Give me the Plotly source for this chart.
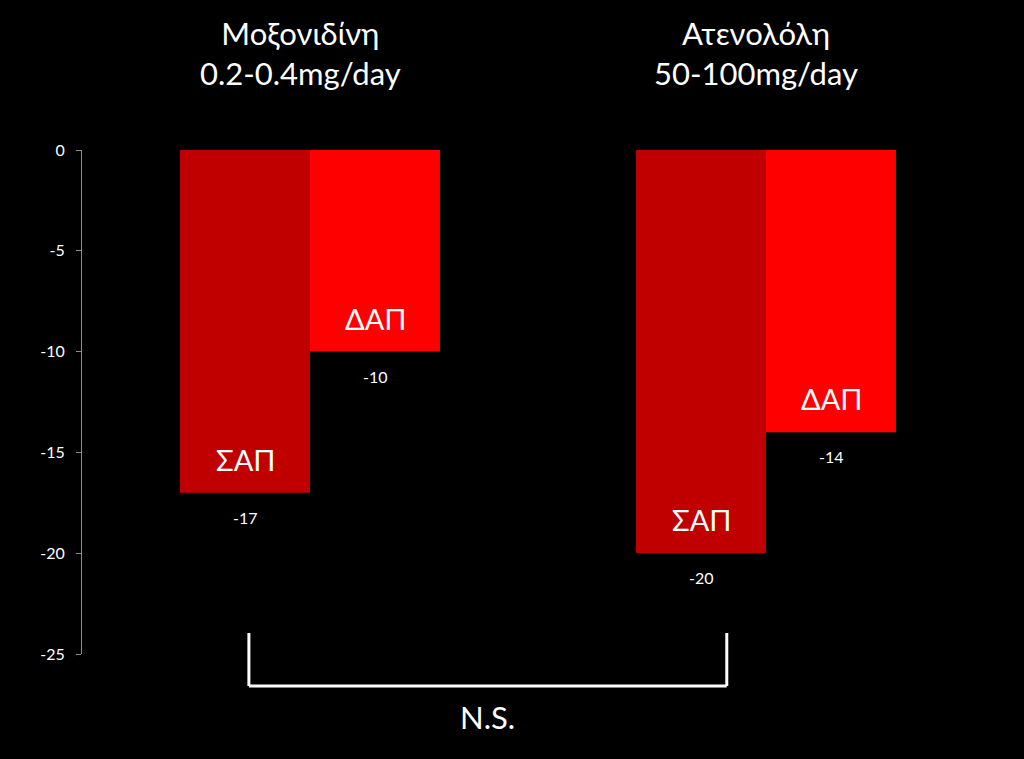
import plotly.graph_objects as go

categories = ["Μοξονιδίνη<br>0.2-0.4mg/day", "Ατενολόλη<br>50-100mg/day"]
sap_values = [-17, -20]
dap_values = [-10, -14]
series_names = ["ΣΑΠ", "ΔΑΠ"]
tick_vals = [0, -5, -10, -15, -20, -25]
tick_text = ["0", "-5", "-10", "-15", "-20", "-25"]
sig_label = "N.S."

FONT = "Lato, 'Open Sans', sans-serif"
x_idx = [0, 1]

fig = go.Figure()
fig.add_trace(go.Bar(x=x_idx, y=sap_values, name=series_names[0],
                     marker=dict(color="#C00000", line=dict(width=0))))
fig.add_trace(go.Bar(x=x_idx, y=dap_values, name=series_names[1],
                     marker=dict(color="#FF0000", line=dict(width=0))))

ann = []
# group titles
for i, c in enumerate(categories):
    ann.append(dict(x=i, y=1.0, xref="x", yref="paper", yanchor="bottom", yshift=56,
                    xshift=-10, text=c, showarrow=False,
                    font=dict(family=FONT, size=31, color="white"), align="center"))
# value labels and series labels
for vals, shift, name in [(sap_values, -65, series_names[0]), (dap_values, 65, series_names[1])]:
    for i, v in enumerate(vals):
        ann.append(dict(x=i, y=v, xref="x", yref="y", xshift=shift, yshift=-13,
                        yanchor="top", text=str(v), showarrow=False,
                        font=dict(family=FONT, size=16, color="white")))
        ann.append(dict(x=i, y=v, xref="x", yref="y", xshift=shift, yshift=14,
                        yanchor="bottom", text=name, showarrow=False,
                        font=dict(family=FONT, size=29, color="white")))

bx0, bx1 = -0.134, 0.914
# significance label
ann.append(dict(x=(bx0 + bx1) / 2, y=-0.0635, xref="x", yref="paper", yanchor="top", yshift=-10,
                text=sig_label, showarrow=False,
                font=dict(family=FONT, size=31, color="white")))

line = dict(color="white", width=3)
shapes = [
    dict(type="line", xref="x", yref="paper", x0=bx0, x1=bx1, y0=-0.0635, y1=-0.0635, line=line),
    dict(type="line", xref="x", yref="paper", x0=bx0, x1=bx0, y0=-0.0635, y1=0.0417, line=line),
    dict(type="line", xref="x", yref="paper", x0=bx1, x1=bx1, y0=-0.0635, y1=0.0417, line=line),
]

fig.update_layout(
    width=1024, height=759,
    paper_bgcolor="black", plot_bgcolor="black",
    margin=dict(l=82, r=30, t=150, b=105),
    barmode="group", bargap=0.43, bargroupgap=0,
    showlegend=False,
    annotations=ann, shapes=shapes,
    font=dict(family=FONT, color="white"),
    xaxis=dict(range=[-0.5, 1.5], showticklabels=False, showgrid=False,
               zeroline=False, showline=False, ticks=""),
    yaxis=dict(range=[-25, 0], tickvals=tick_vals, ticktext=tick_text,
               showgrid=False, zeroline=False,
               showline=True, linecolor="#8c8c8c", linewidth=1,
               ticks="outside", ticklen=5, tickcolor="#8c8c8c",
               ticklabelstandoff=8,
               tickfont=dict(family=FONT, size=16, color="white")),
)

fig.write_html("out.html")
